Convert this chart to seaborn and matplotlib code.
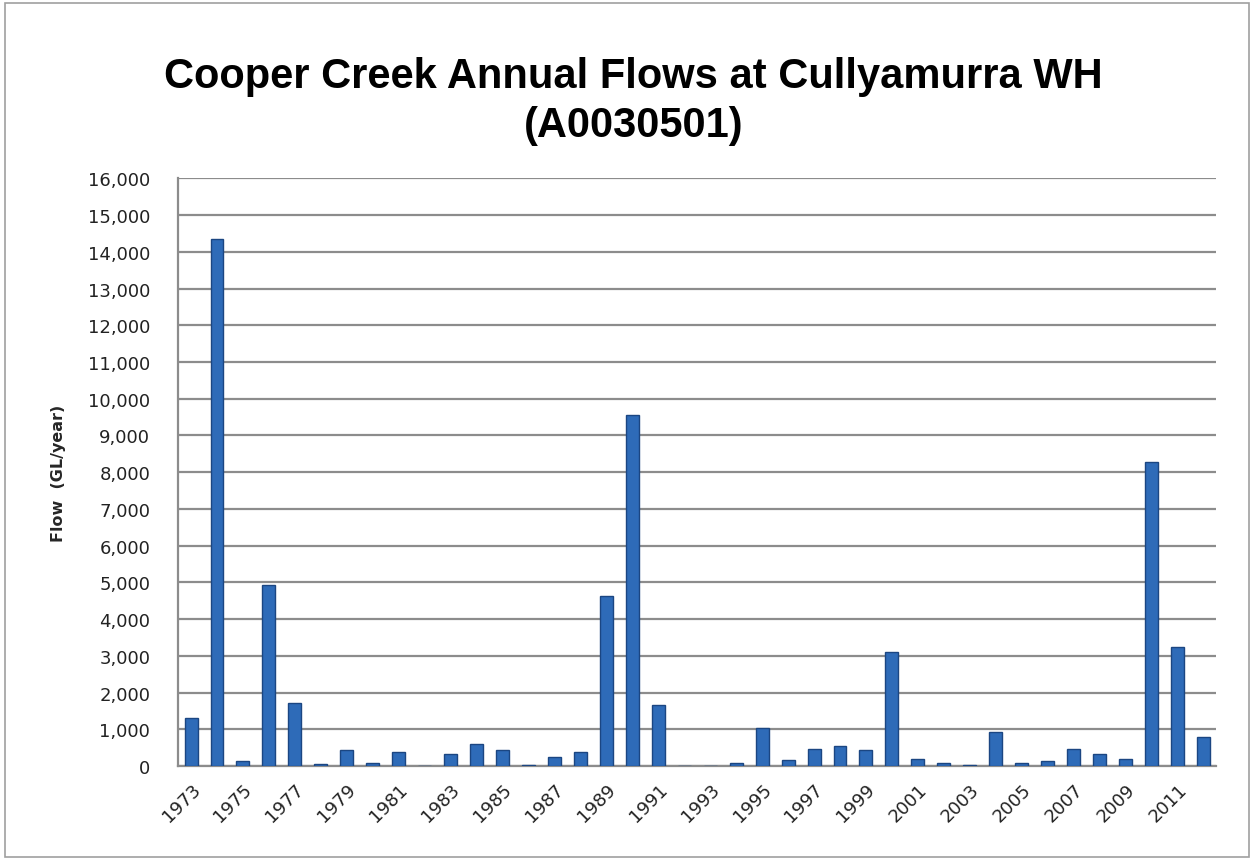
import pandas as pd
import seaborn as sns
import matplotlib.pyplot as plt
from matplotlib.patches import Rectangle
from matplotlib.ticker import FuncFormatter, FixedLocator
from matplotlib.transforms import ScaledTranslation

years = list(range(1973, 2013))
flows = [1320, 14340, 150, 4940, 1710, 50, 440, 90, 380, 10,
         330, 610, 430, 20, 260, 390, 4620, 9550, 1660, 15,
         10, 100, 1050, 160, 480, 540, 430, 3100, 200, 90,
         20, 930, 75, 140, 480, 330, 200, 8280, 3240, 800]

df = pd.DataFrame({'Year': years, 'Flow': flows})

sns.set_style('white')
plt.rcParams['font.family'] = ['DejaVu Sans']

fig = plt.figure(figsize=(12.54, 8.62), dpi=100)
ax = fig.add_axes([0.142, 0.110, 0.828, 0.682])

sns.barplot(data=df, x='Year', y='Flow', color='#2E6BB8', saturation=1, width=0.5,
            edgecolor='#1B4682', linewidth=1.0, ax=ax, zorder=3)

ax.set_ylim(0, 16000)
ax.set_xlim(-0.5, len(years) - 0.5)
ax.set_yticks(range(0, 16001, 1000))
ax.yaxis.set_major_formatter(FuncFormatter(lambda v, p: f'{int(v):,}'))
ax.grid(axis='y', color='#8C8C8C', linewidth=1.6, zorder=0)
ax.set_axisbelow(True)

# category labels every other year, ticks on category boundaries
ax.set_xticks(range(0, len(years), 2))
ax.set_xticklabels([str(y) for y in years[::2]], rotation=45, ha='right',
                   rotation_mode='anchor', fontsize=13, color='#222222')
shift = ScaledTranslation(12 / 100, 0, fig.dpi_scale_trans)
for lab in ax.get_xticklabels():
    lab.set_transform(lab.get_transform() + shift)
ax.tick_params(axis='x', which='major', length=0, pad=10)
ax.xaxis.set_minor_locator(FixedLocator([i - 0.5 for i in range(len(years) + 1)]))
ax.tick_params(axis='x', which='minor', length=7, width=1.3, color='#8C8C8C')
ax.tick_params(axis='y', length=7, width=1.3, color='#8C8C8C', labelsize=13,
               labelcolor='#222222', pad=13)

for s in ['top', 'right']:
    ax.spines[s].set_visible(False)
for s in ['left', 'bottom']:
    ax.spines[s].set_color('#8C8C8C')
    ax.spines[s].set_linewidth(1.6)

ax.set_xlabel('')
ax.set_ylabel('Flow  (GL/year)', fontsize=11.5, fontweight='bold', labelpad=16)

fig.text(0.505, 0.882, 'Cooper Creek Annual Flows at Cullyamurra WH\n(A0030501)',
         ha='center', va='center', fontsize=30, fontweight='bold', color='black',
         family=['Liberation Sans'], linespacing=1.3)

fig.patches.append(Rectangle((0.004, 0.005), 0.992, 0.99, transform=fig.transFigure,
                             fill=False, edgecolor='#A0A0A0', linewidth=1.2))

plt.savefig('out.png', dpi=100)
